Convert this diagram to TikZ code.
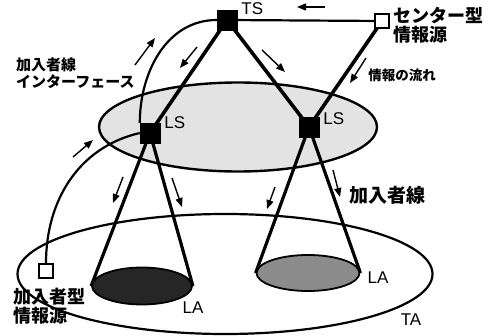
\documentclass[tikz,border=0pt]{standalone}
\usepackage{fontspec}
\setmainfont{Liberation Sans}
\newfontfamily\jpfont{Noto Sans CJK JP}
\usepackage{tikz}
\usetikzlibrary{arrows.meta, positioning, backgrounds, shapes.geometric}
\tikzset{
  switch/.style={draw=black, fill=black, minimum size=20pt, inner sep=0pt},
  srcbox/.style={draw=black, fill=white, line width=1.8pt, minimum size=14pt, inner sep=0pt},
  area/.style={ellipse, draw=black, line width=2.4pt, inner sep=0pt},
  trunk/.style={line width=3.6pt, draw=black},
  tie/.style={line width=2.2pt, draw=black},
  flow/.style={-{Triangle[length=9pt, width=7pt]}, line width=1.4pt, draw=black},
  lbl/.style={font=\fontsize{17}{17}\selectfont, inner sep=1pt},
  jlbl/.style={font=\jpfont\bfseries\fontsize{18}{19}\selectfont, align=left, inner sep=1pt},
  jsmall/.style={jlbl, font=\jpfont\bfseries\fontsize{15}{17}\selectfont},
  jtiny/.style={jlbl, font=\jpfont\bfseries\fontsize{13.5}{15}\selectfont},
}

\begin{document}
\begin{tikzpicture}[x=1pt, y=1pt]
  \useasboundingbox (0,0) rectangle (495,335);
  % switches and sources
  \node[switch] (ts) at (227,315) {};
  \node[switch] (lsl) at (150,202) {};
  \node[switch] (lsr) at (309,208) {};
  \node[srcbox] (csrc) at (382,314) {};
  \node[srcbox] (usrc) at (46,64) {};

  \begin{scope}[on background layer]
    % service areas
    \node[area, fill=gray!22, minimum width=278pt, minimum height=89pt] (lsarea) at (238,208) {};
    \node[area, line width=2.2pt, minimum width=415pt, minimum height=120pt] (tarea) at (225,61) {};
    \node[area, fill=black!85, line width=1.8pt, minimum width=100pt, minimum height=37pt] (laleft) at (142,49) {};
    \node[area, fill=black!45, line width=1.8pt, minimum width=103pt, minimum height=36pt] (laright) at (308,62) {};
    % lines
    \draw[trunk] (ts.center) -- (lsl.center);
    \draw[trunk] (ts.center) -- (lsr.center);
    \draw[trunk] (csrc.center) -- (lsr.center);
    \draw[tie] (ts.center) -- (csrc.center);
    \draw[trunk, line width=3.2pt] (lsl.center) -- (laleft.west);
    \draw[trunk, line width=3.2pt] (lsl.center) -- (laleft.east);
    \draw[trunk, line width=3.2pt] (lsr.center) -- (laright.west);
    \draw[trunk, line width=3.2pt] (lsr.center) -- (laright.east);
    \draw[tie] (ts.west) to[out=180, in=90] (lsl.north west);
    \draw[tie] (lsl.west) to[out=193, in=90] (usrc.north);
  \end{scope}

  % flow arrows
  \draw[flow] (325,328) -- (297,328);
  \draw[flow] (135,270) -- (155,297);
  \draw[flow] (197,288) -- (180,267);
  \draw[flow] (73,178) -- (93,195);
  \draw[flow] (262,285) -- (285,263);
  \draw[flow] (366,277) -- (350,252);
  \draw[flow] (123,158) -- (113,132);
  \draw[flow] (172,157) -- (182,128);
  \draw[flow] (275,148) -- (267,126);
  \draw[flow] (333,165) -- (340,138);

  % labels
  \node[lbl, right=3pt of ts.north east, yshift=1pt] (tslbl) {TS};
  \node[lbl, right=3pt of lsl.north east] (lsllbl) {LS};
  \node[lbl, right=3pt of lsr.north east, yshift=-2pt] (lsrlbl) {LS};
  \node[lbl] (lalbl) at (193,27) {LA};
  \node[lbl] (larlbl) at (378,57) {LA};
  \node[lbl] (talbl) at (411,15) {TA};
  \node[jlbl, right=2pt of csrc.east, yshift=-4pt] (csrclbl) {センター型\\情報源};
  \node[jlbl, below=8pt of usrc.south, xshift=3pt] (usrclbl) {加入者型\\情報源};
  \node[jsmall, anchor=north west] (ifacelbl) at (15,279) {加入者線\\インターフェース};
  \node[jtiny] (flowlbl) at (402,260) {情報の流れ};
  \node[jlbl, font=\jpfont\bfseries\fontsize{19}{20}\selectfont] (linelbl) at (387,140) {加入者線};
\end{tikzpicture}
\end{document}
